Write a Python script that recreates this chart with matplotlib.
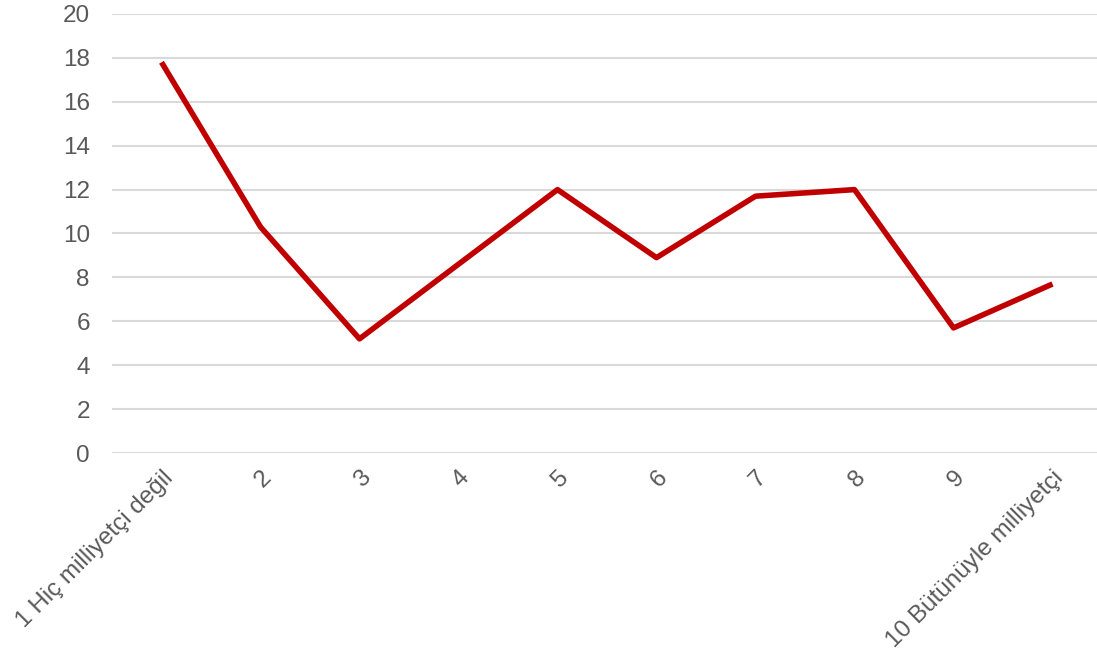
import matplotlib.pyplot as plt

plt.rcParams['font.family'] = ['Liberation Sans', 'DejaVu Sans']

# Data
categories = ['1 Hiç milliyetçi değil', '2', '3', '4', '5', '6', '7', '8', '9',
              '10 Bütünüyle milliyetçi']
values = [17.8, 10.3, 5.2, 8.6, 12.0, 8.9, 11.7, 12.0, 5.7, 7.7]
y_ticks = list(range(0, 21, 2))

fig = plt.figure(figsize=(10.97, 6.53), dpi=100)
ax = fig.add_axes([112 / 1097, 1 - 453 / 653, 1 - 112 / 1097, (453 - 14) / 653])

x = list(range(1, len(categories) + 1))
ax.plot(x, values, color='#c00000', linewidth=4, solid_capstyle='butt', zorder=3)

ax.set_ylim(0, 20)
ax.set_xlim(0.5, 0.5 + (1097 - 112) / 99)
ax.set_yticks(y_ticks)
ax.yaxis.grid(True, color='#d9d9d9', linewidth=1.5)
ax.set_axisbelow(True)
for s in ax.spines.values():
    s.set_visible(False)
ax.tick_params(axis='both', length=0, labelsize=17.5, labelcolor='#595959')
ax.tick_params(axis='y', pad=16)

ax.set_xticks(x)
ax.set_xticklabels(categories, rotation=45, ha='right', rotation_mode='anchor')
ax.tick_params(axis='x', pad=10)

fig.savefig('out.png', dpi=100)
